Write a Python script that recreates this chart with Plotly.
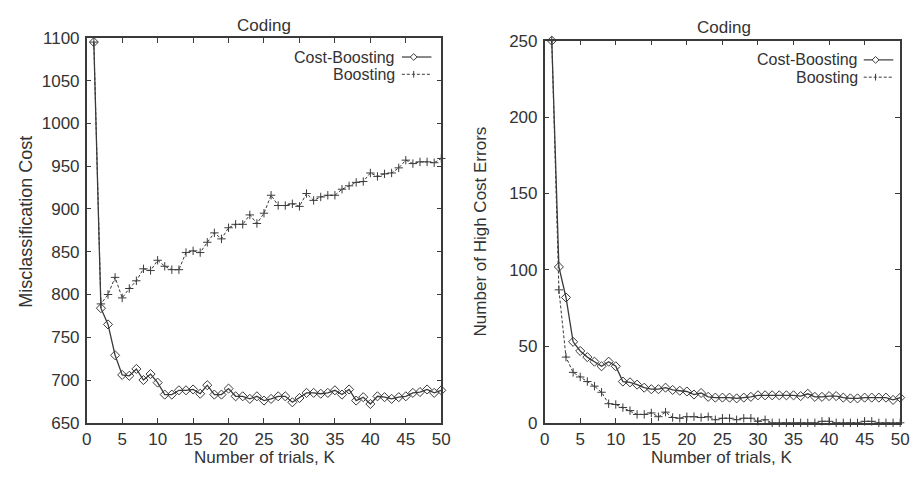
import plotly.graph_objects as go

W, H = 921, 477

# ---- data ----
K = list(range(1, 51))
cost_cb = [1095, 784, 765, 729, 706, 705, 713, 700, 707, 697,
           683, 683, 688, 688, 689, 684, 694, 683, 683, 690,
           681, 681, 678, 681, 676, 678, 681, 681, 674, 679,
           685, 685, 684, 685, 688, 683, 689, 676, 680, 672,
           681, 680, 678, 680, 681, 685, 686, 689, 685, 688]
cost_b = [1095, 789, 800, 820, 796, 807, 816, 830, 828, 840,
          833, 829, 829, 849, 851, 849, 861, 872, 865, 878,
          882, 882, 893, 883, 895, 916, 904, 904, 906, 903,
          918, 910, 914, 916, 916, 923, 927, 931, 932, 942,
          938, 941, 942, 948, 957, 953, 955, 955, 954, 959]
err_cb = [250, 102, 82, 53, 47, 43, 40, 37, 40, 37,
          27, 26.5, 25, 23, 22, 22, 23, 21.5, 21, 20.5,
          18.5, 19.5, 17, 16.5, 16.5, 16.5, 16, 16.5, 17, 18,
          18, 18, 18, 18, 18, 17.5, 19, 17, 17, 17.5,
          17.5, 16.5, 16, 16, 16.5, 16.5, 16.5, 16.5, 15, 16.5]
err_b = [250, 87, 43, 33, 30, 27, 24, 20, 12.5, 12,
         10, 8, 5.5, 5.5, 6.5, 4, 7, 3.5, 3, 4,
         4, 3.5, 4, 2, 3, 3, 2, 3, 3, 1,
         2, 0, 0, 0, 0, 0, 0, 0, 1, 1,
         0, 0, 0, 0, 1, 1, 0, 0, 0, 0]

x_ticks = list(range(0, 51, 5))
left_ticks = list(range(650, 1101, 50))
right_ticks = list(range(0, 251, 50))

panel_title = "Coding"
x_title = "Number of trials, K"
left_ytitle = "Misclassification Cost"
right_ytitle = "Number of High Cost Errors"
names = ["Cost-Boosting", "Boosting"]

# ---- styling ----
FONT = "Liberation Sans, Arial, Helvetica, sans-serif"
INK = "#3a3a3a"
TXT = "#333333"

def px(x): return x / W
def py(y): return 1 - y / H

fig = go.Figure()

cb_style = dict(mode="lines+markers", line=dict(color=INK, width=1.3),
                marker=dict(symbol="diamond-open", size=7, color=INK, line=dict(width=1, color=INK)),
                cliponaxis=False, showlegend=False)
b_style = dict(mode="lines+markers", line=dict(color=INK, width=1, dash="3px,2px"),
               marker=dict(symbol="cross-thin-open", size=6, color=INK, line=dict(width=1, color=INK)),
               cliponaxis=False, showlegend=False)

fig.add_trace(go.Scatter(x=K, y=cost_cb, name=names[0], xaxis="x", yaxis="y", **cb_style))
fig.add_trace(go.Scatter(x=K, y=cost_b, name=names[1], xaxis="x", yaxis="y", **b_style))
fig.add_trace(go.Scatter(x=K, y=err_cb, name=names[0], xaxis="x2", yaxis="y2", **cb_style))
fig.add_trace(go.Scatter(x=K, y=err_b, name=names[1], xaxis="x2", yaxis="y2", **b_style))

ax_common = dict(showline=True, linecolor=INK, linewidth=1.5, mirror="ticks",
                 ticks="inside", ticklen=5, tickwidth=1, tickcolor=INK,
                 showgrid=False, zeroline=False,
                 tickfont=dict(family=FONT, size=17, color=TXT))

fig.update_layout(
    width=W, height=H,
    margin=dict(l=0, r=0, t=0, b=0),
    paper_bgcolor="white", plot_bgcolor="white",
    xaxis=dict(domain=[px(83), px(443)], range=[0, 50], tickvals=x_ticks,
               anchor="y", ticklabelstandoff=0, **ax_common),
    yaxis=dict(domain=[py(431), py(30)], range=[650, 1100], tickvals=left_ticks,
               anchor="x", ticklabelstandoff=2, **ax_common),
    xaxis2=dict(domain=[px(548), px(909)], range=[0, 50], tickvals=x_ticks,
                anchor="y2", ticklabelstandoff=0, **ax_common),
    yaxis2=dict(domain=[py(431), py(33)], range=[0, 250], tickvals=right_ticks,
                anchor="x2", ticklabelstandoff=2, **ax_common),
)

ann = []
def text(x, y, s, size=17, angle=0, xanchor="center"):
    ann.append(dict(x=px(x), y=py(y), xref="paper", yref="paper", text=s,
                    showarrow=False, textangle=angle, xanchor=xanchor, yanchor="middle",
                    font=dict(family=FONT, size=size, color=TXT)))

text(263, 17, panel_title, size=17)
text(730, 19, panel_title, size=17)
text(263, 467, x_title, size=17)
text(728, 467, x_title, size=17)
text(21, 222, left_ytitle, size=18, angle=-90)
text(483, 232, right_ytitle, size=17, angle=-90)

# legends (gnuplot style: text then sample)
shapes = []
def legend(xr, y0, dy, sx0, sx1):
    for i, nm in enumerate(names):
        yy = y0 + i * dy
        text(xr, yy, nm, size=16, xanchor="right")
        shapes.append(dict(type="line", xref="paper", yref="paper",
                           x0=px(sx0), x1=px(sx1), y0=py(yy), y1=py(yy),
                           line=dict(color=INK, width=1.2 if i == 0 else 1,
                                     dash="solid" if i == 0 else "3px,2px")))
        mx = (sx0 + sx1) / 2 - 3
        r = 3.5
        if i == 0:
            path = (f"M {px(mx - r)} {py(yy)} L {px(mx)} {py(yy - r)} "
                    f"L {px(mx + r)} {py(yy)} L {px(mx)} {py(yy + r)} Z")
            shapes.append(dict(type="path", xref="paper", yref="paper", path=path,
                               fillcolor="white", line=dict(color=INK, width=1)))
        else:
            shapes.append(dict(type="line", xref="paper", yref="paper",
                               x0=px(mx), x1=px(mx), y0=py(yy - r), y1=py(yy + r),
                               line=dict(color=INK, width=1)))

legend(398, 50, 18, 403, 433)
legend(868, 53, 18, 872, 902)

fig.update_layout(annotations=ann, shapes=shapes)
fig.write_html("out.html", config={"displayModeBar": False},
               post_script="document.body.style.margin='0';document.body.style.overflow='hidden';")
